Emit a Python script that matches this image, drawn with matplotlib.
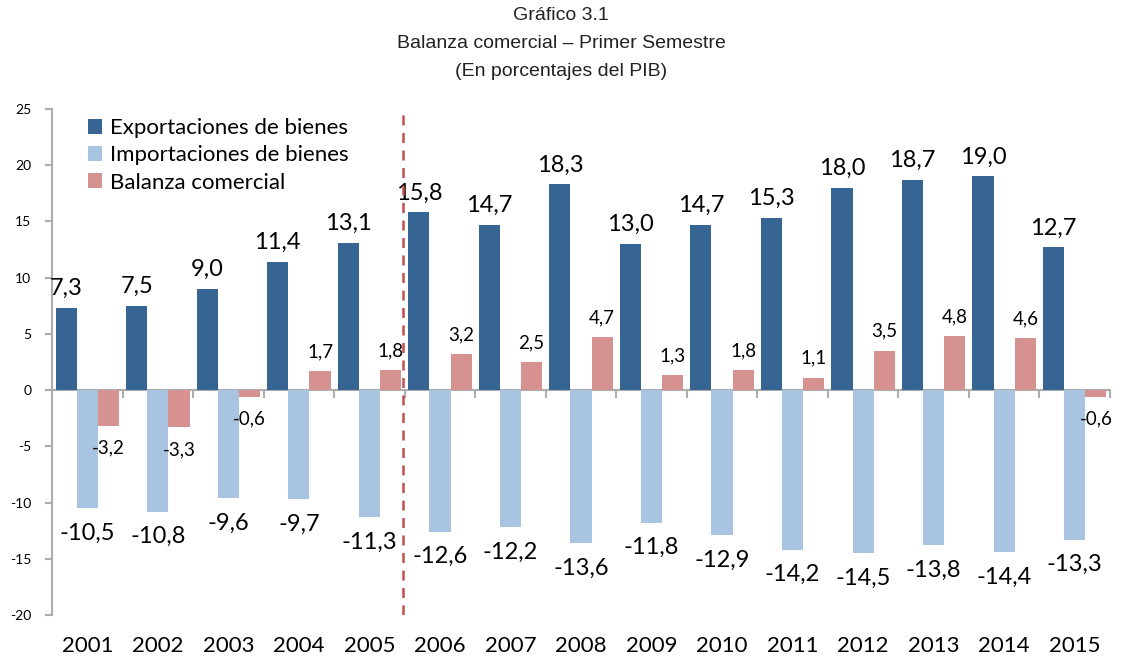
import numpy as np
import matplotlib
matplotlib.use("Agg")
import matplotlib.pyplot as plt

years = ["2001", "2002", "2003", "2004", "2005", "2006", "2007", "2008",
         "2009", "2010", "2011", "2012", "2013", "2014", "2015"]
exportaciones = [7.3, 7.5, 9.0, 11.4, 13.1, 15.8, 14.7, 18.3, 13.0, 14.7,
                 15.3, 18.0, 18.7, 19.0, 12.7]
importaciones = [-10.5, -10.8, -9.6, -9.7, -11.3, -12.6, -12.2, -13.6, -11.8,
                 -12.9, -14.2, -14.5, -13.8, -14.4, -13.3]
balanza = [-3.2, -3.3, -0.6, 1.7, 1.8, 3.2, 2.5, 4.7, 1.3, 1.8, 1.1, 3.5,
           4.8, 4.6, -0.6]
title_lines = ["Gráfico 3.1", "Balanza comercial – Primer Semestre",
               "(En porcentajes del PIB)"]

C_EXP = "#366493"
C_IMP = "#A8C4E0"
C_BAL = "#D69290"
GRAY = "#ADADAD"
LABEL_FONT = ["Lato", "DejaVu Sans"]

fmt = lambda v: f"{v:.1f}".replace(".", ",")

fig = plt.figure(figsize=(11.22, 6.56), dpi=100)
ax = fig.add_axes([52 / 1122, 1 - 615 / 656, 1058 / 1122, 506 / 656])

x = np.arange(len(years))
w = 0.3
ax.bar(x - w, exportaciones, width=w, color=C_EXP, label="Exportaciones de bienes", zorder=2)
ax.bar(x, importaciones, width=w, color=C_IMP, label="Importaciones de bienes", zorder=2)
ax.bar(x + w, balanza, width=w, color=C_BAL, label="Balanza comercial", zorder=2)

# data labels
for xi, v in zip(x - w, exportaciones):
    ax.annotate(fmt(v), (xi, v), xytext=(0, 14), textcoords="offset points",
                ha="center", va="center", fontsize=17, family=LABEL_FONT)
for xi, v in zip(x, importaciones):
    ax.annotate(fmt(v), (xi, v), xytext=(0, -18), textcoords="offset points",
                ha="center", va="center", fontsize=17, family=LABEL_FONT)
for xi, v in zip(x + w, balanza):
    off = 14 if v > 0 else -16
    ax.annotate(fmt(v), (xi, v), xytext=(0, off), textcoords="offset points",
                ha="center", va="center", fontsize=13.5, family=LABEL_FONT)

ax.set_xlim(-0.5, len(years) - 0.5)
ax.set_ylim(-20, 25)
ax.set_yticks(np.arange(-20, 26, 5))
ax.set_yticklabels([str(t) for t in range(-20, 26, 5)], family=LABEL_FONT, fontsize=10)
ax.set_xticks(x)
ax.set_xticklabels(years, family=LABEL_FONT, fontsize=16)
ax.tick_params(axis="x", length=0, pad=15)
ax.tick_params(axis="y", length=5, width=1.5, color=GRAY, pad=10)

for s in ["top", "right", "bottom"]:
    ax.spines[s].set_visible(False)
ax.spines["left"].set_color(GRAY)
ax.spines["left"].set_linewidth(1.5)

# zero line with category boundary ticks
ymin, ymax = ax.get_ylim()
sec = ax.secondary_xaxis((0 - ymin) / (ymax - ymin))
sec.set_xticks(np.arange(-0.5, len(years)), labels=[])
sec.tick_params(length=6, width=1.5, color=GRAY, direction="out")
sec.spines["bottom"].set_color(GRAY)
sec.spines["bottom"].set_linewidth(1.5)

ax.axvline(4.48, color="#C0504D", lw=1.8, ls=(0, (4, 3)), zorder=3)

ax.legend(loc="upper left", bbox_to_anchor=(88 / 1122, 1 - 118 / 656),
          bbox_transform=fig.transFigure, frameon=False, borderpad=0,
          borderaxespad=0, handlelength=0.65, handleheight=0.65,
          handletextpad=0.35, labelspacing=0.33,
          prop={"family": LABEL_FONT, "size": 16})

for i, line in enumerate(title_lines):
    fig.text(0.5, 1 - (16 + 27.5 * i) / 656, line, ha="center", va="center",
             fontsize=14, family="Liberation Sans", color="#222222")

fig.savefig("out.png", dpi=100)
